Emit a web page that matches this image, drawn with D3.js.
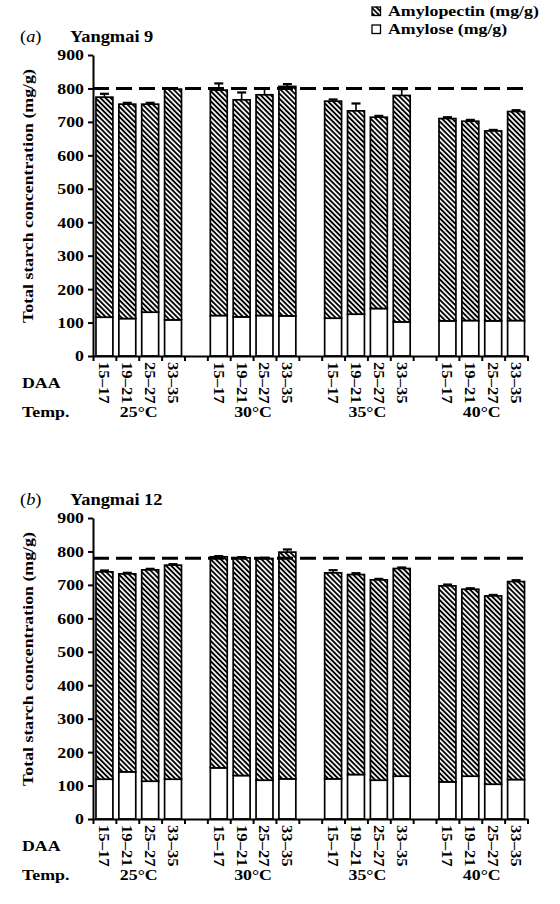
<!DOCTYPE html>
<html>
<head>
<meta charset="utf-8">
<script src="https://cdn.jsdelivr.net/npm/d3@7"></script>
<style>
  body { margin: 0; background: #fff; }
  text { font-family: "Liberation Serif", "Times New Roman", serif; fill: #000; }
</style>
</head>
<body>
<div id="chart"></div>
<script>
const temps = ["25°C", "30°C", "35°C", "40°C"];
const daa = ["15–17", "19–21", "25–27", "33–35"];
const yTicks = [0, 100, 200, 300, 400, 500, 600, 700, 800, 900];

// Yangmai 9 (mg/g), 4 DAA stages per temperature
const amyloseA     = [116, 112, 131, 108,  121, 117, 121, 120,  113, 125, 142, 102,  105, 106, 105, 106];
const amylopectinA = [658, 641, 622, 690,  674, 649, 660, 686,  649, 608, 572, 677,  605, 596, 568, 625];
const errA         = [ 10,   4,   4,   3,   20,  22,  20,   7,    5,  22,   4,  19,    4,   4,   3,   4];
const refA = 800;

// Yangmai 12
const amyloseB     = [119, 141, 113, 119,  153, 130, 116, 120,  120, 133, 116, 128,  111, 128, 104, 118];
const amylopectinB = [620, 592, 632, 640,  631, 651, 663, 678,  616, 598, 599, 621,  586, 559, 563, 592];
const errB         = [  4,   3,   3,   3,    2,   2,   2,   8,    8,   4,   3,   3,    4,   3,   3,   4];
const refB = 780;

const W = 560, H = 904;
const sx = 1.15; // the figure's serif glyphs are wider than Times
const fs = 15.5;

const svg = d3.select("#chart").append("svg")
    .attr("width", W)
    .attr("height", H);
svg.append("rect").attr("width", W).attr("height", H).attr("fill", "#fff");

// diagonal hatch for amylopectin
const pat = svg.append("defs").append("pattern")
    .attr("id", "hatch")
    .attr("patternUnits", "userSpaceOnUse")
    .attr("width", 3.6)
    .attr("height", 3.6)
    .attr("patternTransform", "rotate(-45)");
pat.append("rect").attr("width", 3.6).attr("height", 3.6).attr("fill", "#fff");
pat.append("line")
    .attr("x1", 1.8).attr("y1", -1)
    .attr("x2", 1.8).attr("y2", 4.6)
    .attr("stroke", "#000")
    .attr("stroke-width", 1.9);

// 4 bars per temperature, one empty slot between groups
const slots = [];
temps.forEach((t, g) => {
  daa.forEach(d => slots.push(t + "|" + d));
  if (g < temps.length - 1) slots.push("gap" + g);
});

const x = d3.scaleBand()
    .domain(slots)
    .range([93, 527.5])
    .paddingInner(0.26)
    .paddingOuter(0.13);
const xEdge = d3.scaleLinear().domain([0, slots.length]).range([93, 527.5]);

function put(sel, tx, ty, rot, size) {
  return sel.attr("transform", `translate(${tx},${ty}) rotate(${rot || 0}) scale(${sx},1)`)
            .attr("font-size", size || fs)
            .style("font-weight", "bold");
}

function drawPanel(cfg) {
  const g = svg.append("g");
  const y = d3.scaleLinear().domain([0, 900]).range([cfg.base, cfg.base - 301]);

  const rows = temps.flatMap((t, gi) => daa.map((d, i) => ({
    key : t + "|" + d,
    daa : d,
    amylose : cfg.amylose[gi * 4 + i],
    amylopectin : cfg.amylopectin[gi * 4 + i],
    err : cfg.err[gi * 4 + i]
  })));
  const stacked = d3.stack().keys([ "amylose", "amylopectin" ])(rows);

  // title
  const t = g.append("text")
      .attr("font-size", 16)
      .style("font-weight", "normal")
      .attr("transform", `translate(20,${cfg.base - 314}) scale(${sx},1)`);
  t.append("tspan").text("(");
  t.append("tspan").style("font-style", "italic").text(cfg.label);
  t.append("tspan").text(")");
  put(g.append("text"), 70, cfg.base - 314, 0, 16).text(cfg.name);

  // bars
  g.selectAll("g.layer")
      .data(stacked)
      .join("g")
      .attr("class", "layer")
      .attr("fill", d => d.key === "amylose" ? "#fff" : "url(#hatch)")
      .selectAll("rect")
      .data(d => d)
      .join("rect")
      .attr("x", d => x(d.data.key))
      .attr("y", d => y(d[1]))
      .attr("width", x.bandwidth())
      .attr("height", d => y(d[0]) - y(d[1]))
      .attr("stroke", "#000")
      .attr("stroke-width", 1.7);

  // error bars (upper half only)
  const eb = g.selectAll("g.err")
      .data(rows)
      .join("g")
      .attr("class", "err")
      .attr("stroke", "#000")
      .attr("stroke-width", 1.6);
  const cx = d => x(d.key) + x.bandwidth() / 2;
  const top = d => d.amylose + d.amylopectin;
  eb.append("line")
      .attr("x1", cx).attr("x2", cx)
      .attr("y1", d => y(top(d)))
      .attr("y2", d => y(top(d) + d.err));
  eb.append("line")
      .attr("x1", d => cx(d) - 4.5).attr("x2", d => cx(d) + 4.5)
      .attr("y1", d => y(top(d) + d.err))
      .attr("y2", d => y(top(d) + d.err))
      .attr("stroke-width", 2.2);

  // reference line
  g.append("line")
      .attr("x1", xEdge(0)).attr("x2", xEdge(slots.length))
      .attr("y1", y(cfg.ref)).attr("y2", y(cfg.ref))
      .attr("stroke", "#000")
      .attr("stroke-width", 3)
      .attr("stroke-dasharray", "16 7");

  // y axis
  const ya = g.append("g")
      .attr("transform", `translate(${xEdge(0)},0)`)
      .call(d3.axisLeft(y).tickValues(yTicks).tickSize(5).tickSizeOuter(0));
  ya.selectAll("path, line").attr("stroke-width", 2);
  ya.selectAll("text")
      .attr("x", null)
      .attr("transform", `translate(-9,0) scale(${sx},1)`)
      .attr("font-size", fs)
      .style("font-weight", "bold");

  // x axis: ticks on slot edges
  const xa = g.append("g")
      .attr("transform", `translate(0,${y(0)})`)
      .call(d3.axisBottom(xEdge)
                .tickValues(d3.range(slots.length + 1))
                .tickSize(5)
                .tickSizeOuter(0)
                .tickFormat(""));
  xa.selectAll("path, line").attr("stroke-width", 2);

  // DAA labels
  g.selectAll("text.daa")
      .data(rows)
      .join("text")
      .attr("class", "daa")
      .attr("text-anchor", "start")
      .attr("dy", "0.35em")
      .each(function(d) { put(d3.select(this), cx(d), y(0) + 6, 90, 14.5); })
      .text(d => d.daa);

  put(g.append("text"), 22, cfg.base + 32, 0).text("DAA");
  put(g.append("text"), 22, cfg.base + 61, 0).text("Temp.");
  temps.forEach(tp => {
    const x0 = x(tp + "|" + daa[0]);
    const x1 = x(tp + "|" + daa[daa.length - 1]) + x.bandwidth();
    put(g.append("text"), (x0 + x1) / 2, cfg.base + 61, 0)
        .attr("text-anchor", "middle")
        .text(tp);
  });

  // y title
  put(g.append("text"), 32.5, cfg.base - 160, -90)
      .attr("text-anchor", "middle")
      .text("Total starch concentration (mg/g)");
}

drawPanel({label : "a", name : "Yangmai 9", amylose : amyloseA, amylopectin : amylopectinA,
           err : errA, ref : refA, base : 356});
drawPanel({label : "b", name : "Yangmai 12", amylose : amyloseB, amylopectin : amylopectinB,
           err : errB, ref : refB, base : 819});

// legend
const legend = [ {name : "Amylopectin (mg/g)", fill : "url(#hatch)"},
                 {name : "Amylose (mg/g)", fill : "#fff"} ];
legend.forEach((l, i) => {
  svg.append("rect")
      .attr("x", 372).attr("y", 7 + i * 18)
      .attr("width", 8.5).attr("height", 8.5)
      .attr("fill", l.fill)
      .attr("stroke", "#000")
      .attr("stroke-width", 1.3);
  put(svg.append("text"), 388, 15.5 + i * 18, 0).text(l.name);
});
</script>
</body>
</html>
